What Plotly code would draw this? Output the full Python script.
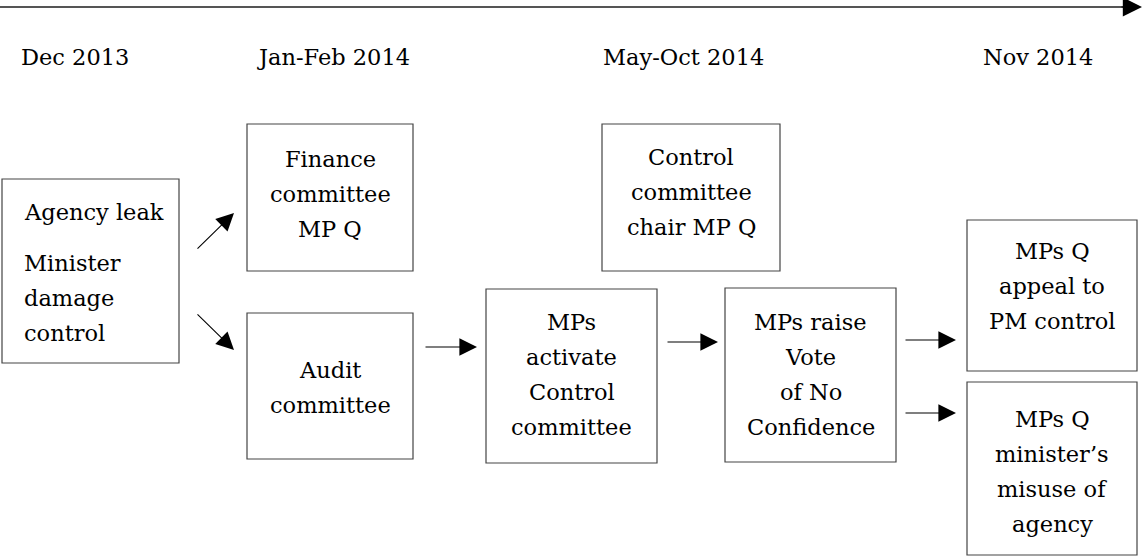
import plotly.graph_objects as go

# ---- content ----
period_labels = ["Dec 2013", "Jan-Feb 2014", "May-Oct 2014", "Nov 2014"]

node_ids = ["leak", "finance", "audit", "chair", "activate", "vote", "appeal", "misuse"]
node_lines = [
    ["Agency leak", "", "Minister", "damage", "control"],
    ["Finance", "committee", "MP Q"],
    ["Audit", "committee"],
    ["Control", "committee", "chair MP Q"],
    ["MPs", "activate", "Control", "committee"],
    ["MPs raise", "Vote", "of No", "Confidence"],
    ["MPs Q", "appeal to", "PM control"],
    ["MPs Q", "minister\u2019s", "misuse of", "agency"],
]
edges = [("leak", "finance"), ("leak", "audit"), ("audit", "activate"),
         ("activate", "vote"), ("vote", "appeal"), ("vote", "misuse")]

# ---- layout geometry (pixel space) ----
W, H = 1144, 558
FONT = "DejaVu Serif"
FS = 22.5
LINE = 35
period_x = [75, 333, 683, 1038]
period_base = 65
box_geom = {  # x0, x1, y0, y1, first baseline, align
    "leak":     (2, 179, 179, 363, 220, "left"),
    "finance":  (247, 413, 124, 271, 167, "center"),
    "audit":    (247, 413, 313, 459, 378, "center"),
    "chair":    (602, 780, 124, 271, 165, "center"),
    "activate": (486, 657, 289, 463, 330, "center"),
    "vote":     (725, 896, 288, 462, 330, "center"),
    "appeal":   (967, 1137, 220, 371, 259, "center"),
    "misuse":   (967, 1137, 382, 555, 427, "center"),
}
edge_geom = {  # tail x, tail y, head x, head y
    ("leak", "finance"): (196, 250, 234, 213),
    ("leak", "audit"): (196, 313, 234, 350),
    ("audit", "activate"): (424, 347, 477, 347),
    ("activate", "vote"): (666, 342, 718, 342),
    ("vote", "appeal"): (904, 340, 956, 340),
    ("vote", "misuse"): (904, 413, 956, 413),
}
gap_after_first = 16

fig = go.Figure()
fig.add_trace(go.Scatter(x=[0, W], y=[0, H], mode="markers",
                         marker=dict(opacity=0), hoverinfo="skip", showlegend=False))

shapes = []
annotations = []

# timeline
shapes.append(dict(type="line", xref="x", yref="y", x0=0, x1=1126, y0=7, y1=7,
                   line=dict(color="#555555", width=2)))
annotations.append(dict(x=1142, y=7, ax=1120, ay=7, xref="x", yref="y", axref="x", ayref="y",
                        showarrow=True, arrowhead=2, arrowsize=3.2, arrowwidth=1.2,
                        arrowcolor="#000000", text="", standoff=0))

for lab, px in zip(period_labels, period_x):
    annotations.append(dict(x=px, y=period_base - 0.35 * FS, xref="x", yref="y", text=lab,
                            showarrow=False, xanchor="center", yanchor="middle",
                            font=dict(family=FONT, size=FS, color="#000000")))

for nid, lines in zip(node_ids, node_lines):
    x0, x1, y0, y1, base, align = box_geom[nid]
    shapes.append(dict(type="rect", xref="x", yref="y", x0=x0, x1=x1, y0=y0, y1=y1,
                       line=dict(color="#444444", width=1.2), fillcolor="rgba(0,0,0,0)"))
    b = base
    for ln in lines:
        if ln == "":
            b += gap_after_first
            continue
        if align == "left":
            ax_x, xa = x0 + 20, "left"
        else:
            ax_x, xa = (x0 + x1) / 2, "center"
        annotations.append(dict(x=ax_x, y=b - 0.35 * FS, xref="x", yref="y", text=ln,
                                showarrow=False, xanchor=xa, yanchor="middle",
                                font=dict(family=FONT, size=FS, color="#000000")))
        b += LINE

for e in edges:
    tx, ty, hx, hy = edge_geom[e]
    annotations.append(dict(x=hx, y=hy, ax=tx, ay=ty, xref="x", yref="y", axref="x", ayref="y",
                            showarrow=True, arrowhead=2, arrowsize=3.2, arrowwidth=1.1,
                            arrowcolor="#000000", text="", standoff=0))

fig.update_layout(
    width=W, height=H, margin=dict(l=0, r=0, t=0, b=0),
    paper_bgcolor="white", plot_bgcolor="white",
    xaxis=dict(range=[0, W], visible=False, fixedrange=True),
    yaxis=dict(range=[H, 0], visible=False, fixedrange=True),
    shapes=shapes, annotations=annotations, showlegend=False,
)
fig.write_html("out.html", config={"displayModeBar": False},
               post_script="document.body.style.margin='0';document.body.style.overflow='hidden';")
